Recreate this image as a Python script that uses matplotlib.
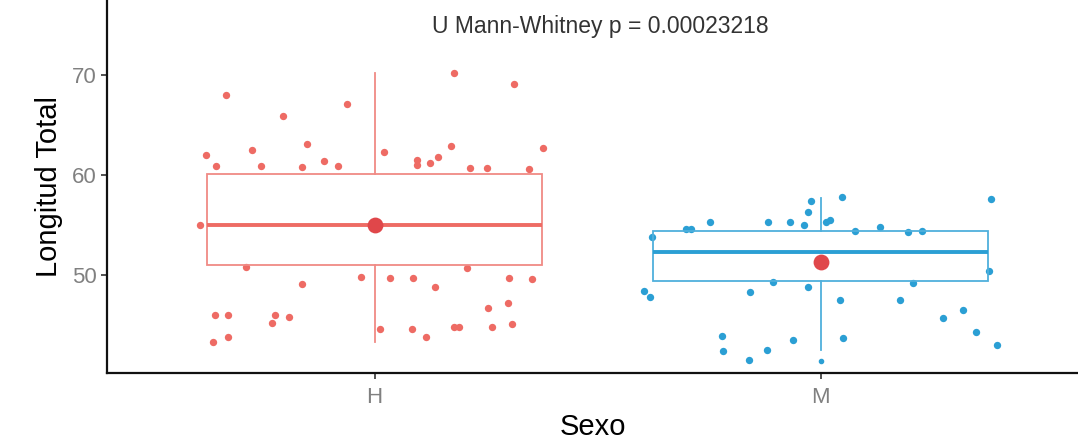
import matplotlib.pyplot as plt
import numpy as np

plt.rcParams["font.family"] = ["Liberation Sans", "DejaVu Sans"]

# Data
categories = ["H", "M"]

h_values = [68.0, 65.9, 67.1, 70.2, 69.1, 62.0, 62.5, 63.1, 60.9, 60.9,
            60.8, 61.4, 60.9, 62.3, 61.5, 61.0, 61.2, 61.8, 62.9, 60.7,
            60.7, 60.6, 62.7, 55.0, 50.8, 50.7, 49.8, 49.7, 49.7, 48.8,
            49.7, 49.6, 49.1, 46.0, 46.0, 46.0, 45.8, 45.2, 43.3, 43.8,
            44.6, 44.6, 43.8, 44.8, 44.8, 46.7, 47.2, 44.8, 45.1]
h_jitter = [-0.333, -0.206, -0.063, 0.179, 0.313, -0.378, -0.275, -0.152, -0.356, -0.255,
            -0.163, -0.114, -0.083, 0.022, 0.096, 0.094, 0.125, 0.143, 0.172, 0.213,
            0.251, 0.347, 0.378, -0.391, -0.289, 0.208, -0.031, 0.034, 0.087, 0.136,
            0.302, 0.353, -0.163, -0.358, -0.329, -0.224, -0.192, -0.230, -0.362, -0.329,
            0.013, 0.083, 0.116, 0.190, 0.179, 0.255, 0.300, 0.264, 0.309]

m_values = [57.4, 57.8, 57.6, 56.3, 55.3, 55.3, 55.3, 55.0, 55.3, 55.5,
            54.8, 54.6, 54.6, 54.4, 54.3, 54.4, 53.8, 50.4, 48.4, 47.8,
            48.3, 48.8, 49.3, 49.2, 47.5, 47.5, 45.7, 46.5, 44.3, 43.0,
            43.9, 42.4, 42.5, 41.5, 43.5, 43.7]
m_jitter = [-0.022, 0.049, 0.383, -0.029, -0.248, -0.119, -0.069, -0.038, 0.011, 0.020,
            0.132, -0.302, -0.291, 0.078, 0.195, 0.228, -0.378, 0.378, -0.396, -0.383,
            -0.159, -0.029, -0.107, 0.208, 0.043, 0.177, 0.275, 0.320, 0.349, 0.396,
            -0.221, -0.219, -0.121, -0.161, -0.063, 0.051]

# box summaries (q1, median, q3, whisker low, whisker high, outliers)
h_box = dict(q1=51.0, med=55.0, q3=60.1, whislo=43.3, whishi=70.2, fliers=[])
m_box = dict(q1=49.4, med=52.3, q3=54.4, whislo=42.5, whishi=57.7, fliers=[41.4])
means = [55.0, 51.3]

red = "#EE6B64"
blue = "#2B9FD4"
red_box = "#F08A85"
blue_box = "#4FB0DC"
mean_color = "#E0474A"

fig = plt.figure(figsize=(10.78, 4.44), dpi=100)
ax = fig.add_axes([107 / 1078, 71 / 444, 1 - 107 / 1078, 1 - 71 / 444])

# jittered points
ax.scatter(1 + np.array(h_jitter), h_values, s=28, color=red, linewidths=0, zorder=2)
ax.scatter(2 + np.array(m_jitter), m_values, s=28, color=blue, linewidths=0, zorder=2)

# boxes
for pos, stats, col, edge in [(1, h_box, red, red_box), (2, m_box, blue, blue_box)]:
    ax.bxp([stats], positions=[pos], widths=0.75, showcaps=False,
           patch_artist=True,
           boxprops=dict(facecolor="none", edgecolor=edge, linewidth=1.3),
           whiskerprops=dict(color=edge, linewidth=1.3),
           medianprops=dict(color=col, linewidth=2.8),
           flierprops=dict(marker="o", markersize=3, markerfacecolor=col,
                           markeredgecolor=col))

# means
ax.scatter([1, 2], means, s=130, color=mean_color, linewidths=0, zorder=4)

ax.set_xlim(0.4, 2.577)
ax.set_ylim(40.2, 77.5)
ax.set_xticks([1, 2])
ax.set_xticklabels(categories)
ax.set_yticks([50, 60, 70])

for s in ["top", "right"]:
    ax.spines[s].set_visible(False)
for s in ["left", "bottom"]:
    ax.spines[s].set_linewidth(1.6)
    ax.spines[s].set_color("#111111")

ax.tick_params(axis="both", length=4, width=1.2, color="#333333",
               labelcolor="#808080", labelsize=16)
ax.tick_params(axis="x", pad=6)

ax.set_xlabel("Sexo", fontsize=21, labelpad=4)
ax.set_ylabel("Longitud Total", fontsize=21, labelpad=6)

ax.text(0.508, 0.93, "U Mann-Whitney p = 0.00023218", transform=ax.transAxes,
        ha="center", va="center", fontsize=16.5, color="#333333")

fig.savefig("out.png", dpi=100)
